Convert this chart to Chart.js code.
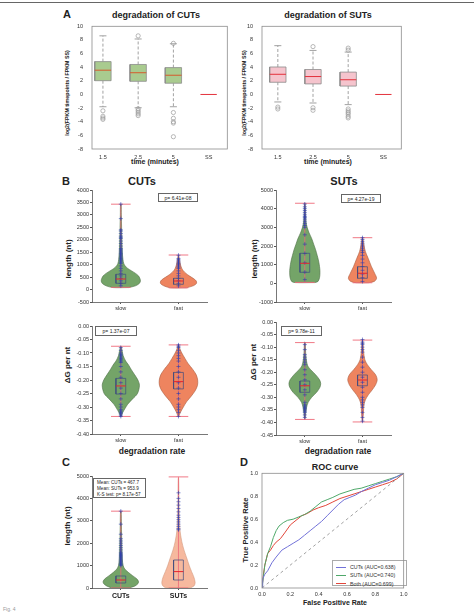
<!DOCTYPE html>
<html>
<head>
<meta charset="utf-8">
<title>CUT and SUT degradation</title>
<script src="https://cdn.jsdelivr.net/npm/chart.js"></script>
<style>
  body { margin: 0; background: #fff; font-family: "Liberation Sans", Arial, sans-serif; }
  .page { position: relative; width: 476px; height: 613px; overflow: hidden; }
  .page canvas { position: absolute; }
  .lbl { position: absolute; white-space: nowrap; transform: translate(-50%, -50%); font-weight: bold; color: #222; }
  .rot { transform: translate(-50%, -50%) rotate(-90deg); }
  .pbox { position: absolute; border: 0.8px solid #666; background: #fff; font-size: 5px; color: #222;
          display: flex; align-items: center; justify-content: center; box-sizing: border-box; }
  .mean { position: absolute; border: 0.8px solid #666; font-size: 4.6px; line-height: 6.2px; color: #222;
          padding: 1px 3px; box-sizing: border-box; }
  .legend { position: absolute; border: 0.8px solid #aaa; background: #fff; font-size: 5.3px; color: #333; box-sizing: border-box; padding: 2px 3px; }
  .legend div { height: 8.3px; display: flex; align-items: center; }
  .legend span.sw { display: inline-block; width: 10px; height: 0; border-top: 1px solid; margin-right: 4px; }
</style>
</head>
<body>
<div class="page" id="page">
  <div style="position:absolute;left:0;top:2px;width:474px;height:1px;background:#666"></div>

  <div class="lbl" style="left:67px;top:14px;font-size:11px">A</div>
  <div class="lbl" style="left:156px;top:15px;font-size:9px">degradation of CUTs</div>
  <div class="lbl" style="left:328px;top:15px;font-size:9px">degradation of SUTs</div>
  <div class="lbl rot" style="left:67px;top:93px;font-size:5.3px">log2(FPKM timepoints / FPKM SS)</div>
  <div class="lbl rot" style="left:244px;top:93px;font-size:5.3px">log2(FPKM timepoints / FPKM SS)</div>
  <div class="lbl" style="left:155px;top:161px;font-size:7px">time (minutes)</div>
  <div class="lbl" style="left:328px;top:161px;font-size:7px">time (minutes)</div>

  <div class="lbl" style="left:66px;top:181px;font-size:11px">B</div>
  <div class="lbl" style="left:142px;top:181px;font-size:11px">CUTs</div>
  <div class="lbl" style="left:344px;top:181px;font-size:11px">SUTs</div>
  <div class="lbl rot" style="left:68px;top:259px;font-size:8px">length (nt)</div>
  <div class="lbl rot" style="left:254px;top:259px;font-size:8px">length (nt)</div>
  <div class="pbox" style="left:158px;top:193px;width:40px;height:9px">p= 6.41e-08</div>
  <div class="pbox" style="left:341px;top:194px;width:40px;height:9px">p= 4.27e-19</div>
  <div class="lbl rot" style="left:67px;top:365px;font-size:8px">ΔG per nt</div>
  <div class="lbl rot" style="left:253px;top:362px;font-size:8px">ΔG per nt</div>
  <div class="pbox" style="left:95px;top:326px;width:42px;height:10px">p= 1.37e-07</div>
  <div class="pbox" style="left:281px;top:326px;width:41px;height:10px">p= 9.78e-11</div>
  <div class="lbl" style="left:152px;top:451px;font-size:8.5px">degradation rate</div>
  <div class="lbl" style="left:338px;top:451px;font-size:8.5px">degradation rate</div>

  <div class="lbl" style="left:66px;top:462px;font-size:11px">C</div>
  <div class="lbl rot" style="left:67px;top:526px;font-size:8px">length (nt)</div>
  <div class="mean" style="left:93px;top:478px;width:53px;height:20px">
    Mean: CUTs = 467.7<br>Mean: SUTs = 953.9<br>K-S test: p= 8.17e-57
  </div>

  <div class="lbl" style="left:244px;top:462px;font-size:11px">D</div>
  <div class="lbl" style="left:335px;top:467px;font-size:9px">ROC curve</div>
  <div class="lbl rot" style="left:245px;top:530px;font-size:7.5px">True Positive Rate</div>
  <div class="lbl" style="left:335px;top:602px;font-size:7px">False Positive Rate</div>
  <div class="legend" style="left:332px;top:560px;width:75px;height:26px">
    <div><span class="sw" style="border-color:#7272d8"></span>CUTs (AUC=0.638)</div>
    <div><span class="sw" style="border-color:#4fa86a"></span>SUTs (AUC=0.740)</div>
    <div><span class="sw" style="border-color:#e2473b"></span>Both (AUC=0.699)</div>
  </div>

  <div style="position:absolute;left:3px;top:606px;font-size:5px;color:#999">Fig. 4</div>
</div>

<script>
  // ---------- panel A: boxplots of log2 ratio ----------
  const TIME_LABELS = ["1.5", "2.5", "5", "SS"];
  const TIME_POS = [1, 2, 3, 4];
  const A_YTICKS = [-8, -6, -4, -2, 0, 2, 4, 6, 8, 10];
  const SS_VALUE = 0;

  const CUT_Q1 = [2.02, 1.93, 1.65];
  const CUT_MED = [3.56, 3.19, 2.82];
  const CUT_Q3 = [4.82, 4.40, 3.94];
  const CUT_LO = [-1.8, -1.95, -1.8];
  const CUT_HI = [8.6, 8.14, 7.44];
  const CUT_OUT = [
    [-2.4, -3.2, -3.45, -3.65],
    [8.6, -2.1, -2.35, -2.6, -2.85, -3.1],
    [7.5, -2.65, -3.5, -4.0, -4.2, -6.2]
  ];

  const SUT_Q1 = [1.79, 1.55, 1.23];
  const SUT_MED = [2.96, 2.63, 2.16];
  const SUT_Q3 = [4.03, 3.66, 3.28];
  const SUT_LO = [-1.1, -1.25, -1.49];
  const SUT_HI = [7.16, 6.46, 6.22];
  const SUT_OUT = [
    [-1.85, -2.13],
    [7.02, -1.95, -2.32],
    [6.5, 6.8, -2.13, -2.41, -2.65, -2.88, -3.2, -3.44]
  ];

  // ---------- panel B / C: violins ----------
  const RATE_LABELS = ["slow", "fast"];
  const RATE_POS = [1, 2];
  const LEN_CUT_TICKS = [-500, 0, 500, 1000, 1500, 2000, 2500, 3000, 3500, 4000];
  const LEN_SUT_TICKS = [-1000, 0, 1000, 2000, 3000, 4000, 5000];
  const DG_CUT_TICKS = [-0.40, -0.35, -0.30, -0.25, -0.20, -0.15, -0.10, -0.05, 0];
  const DG_SUT_TICKS = [-0.45, -0.40, -0.35, -0.30, -0.25, -0.20, -0.15, -0.10, -0.05, 0];

  // each violin: density profile (y levels, relative width), box stats [lo, q1, med, q3, hi], blue points
  const LEN_CUT_SLOW_Y = [80, 150, 250, 350, 450, 550, 650, 750, 850, 950, 1050, 1200, 1500, 2000, 2500, 3000, 3430];
  const LEN_CUT_SLOW_D = [0.4, 0.75, 0.95, 1.0, 0.97, 0.9, 0.75, 0.55, 0.35, 0.22, 0.15, 0.11, 0.075, 0.055, 0.04, 0.025, 0.015];
  const LEN_CUT_SLOW_BOX = [90, 251, 424, 613, 3430];
  const LEN_CUT_SLOW_PTS = [150, 250, 350, 450, 550, 650, 750, 850, 950, 1050, 1100, 1150, 1200, 1250, 1300, 1350, 1400,
    1450, 1500, 1550, 1600, 1650, 1750, 1850, 1950, 2050, 2100, 2150, 2250, 2350, 2400, 2850, 3430];
  const LEN_CUT_FAST_Y = [70, 150, 250, 350, 450, 550, 650, 750, 850, 950, 1100, 1250, 1380];
  const LEN_CUT_FAST_D = [0.4, 0.75, 0.92, 0.9, 0.75, 0.55, 0.38, 0.25, 0.17, 0.12, 0.075, 0.04, 0.015];
  const LEN_CUT_FAST_BOX = [70, 211, 344, 452, 1388];
  const LEN_CUT_FAST_PTS = [150, 250, 350, 450, 550, 650, 750, 850, 900, 950, 1000, 1050, 1100, 1150, 1200, 1250, 1380];

  const LEN_SUT_SLOW_Y = [40, 100, 300, 500, 700, 900, 1100, 1300, 1500, 1800, 2100, 2400, 2700, 3000, 3300, 3700, 4300];
  const LEN_SUT_SLOW_D = [0.5, 0.67, 0.75, 0.77, 0.77, 0.75, 0.72, 0.68, 0.63, 0.55, 0.45, 0.35, 0.22, 0.12, 0.06, 0.035, 0.015];
  const LEN_SUT_SLOW_BOX = [50, 590, 1074, 1609, 4290];
  const LEN_SUT_SLOW_PTS = [200, 600, 1100, 1600, 2100, 2600, 3000, 3100, 3200, 3300, 3400, 3500, 3550, 3600, 3700, 3800,
    3900, 4000, 4100, 4250];
  const LEN_SUT_FAST_Y = [30, 100, 270, 540, 890, 1340, 1700, 2050, 2450];
  const LEN_SUT_FAST_D = [0.3, 0.6, 0.72, 0.62, 0.46, 0.29, 0.15, 0.075, 0.015];
  const LEN_SUT_FAST_BOX = [30, 270, 540, 890, 2445];
  const LEN_SUT_FAST_PTS = [100, 300, 500, 700, 900, 1100, 1300, 1500, 1650, 1750, 1850, 1950, 2050, 2150, 2250, 2350, 2445];

  const DG_CUT_SLOW_Y = [-0.335, -0.32, -0.305, -0.29, -0.27, -0.25, -0.22, -0.20, -0.18, -0.16, -0.145, -0.13, -0.11, -0.09, -0.075];
  const DG_CUT_SLOW_D = [0.015, 0.1, 0.22, 0.35, 0.6, 0.85, 0.95, 0.87, 0.7, 0.52, 0.4, 0.25, 0.12, 0.06, 0.015];
  const DG_CUT_SLOW_BOX = [-0.335, -0.252, -0.222, -0.194, -0.075];
  const DG_CUT_SLOW_PTS = [-0.335, -0.33, -0.325, -0.32, -0.315, -0.31, -0.30, -0.29, -0.27, -0.25, -0.23, -0.21, -0.19,
    -0.17, -0.15, -0.135, -0.13, -0.125, -0.12, -0.115, -0.11, -0.105, -0.10, -0.09, -0.08];
  const DG_CUT_FAST_Y = [-0.335, -0.32, -0.30, -0.28, -0.26, -0.24, -0.22, -0.20, -0.18, -0.16, -0.14, -0.12, -0.10, -0.085, -0.07];
  const DG_CUT_FAST_D = [0.015, 0.1, 0.25, 0.42, 0.65, 0.85, 0.97, 0.98, 0.9, 0.72, 0.5, 0.33, 0.17, 0.075, 0.015];
  const DG_CUT_FAST_BOX = [-0.335, -0.233, -0.206, -0.172, -0.07];
  const DG_CUT_FAST_PTS = [-0.335, -0.32, -0.31, -0.30, -0.29, -0.27, -0.25, -0.23, -0.21, -0.19, -0.17, -0.15, -0.13,
    -0.12, -0.11, -0.10, -0.09, -0.08, -0.075, -0.07];

  const DG_SUT_SLOW_Y = [-0.385, -0.36, -0.34, -0.32, -0.30, -0.28, -0.26, -0.245, -0.23, -0.21, -0.19, -0.175, -0.15, -0.12, -0.08];
  const DG_SUT_SLOW_D = [0.015, 0.05, 0.09, 0.17, 0.35, 0.6, 0.77, 0.81, 0.75, 0.55, 0.3, 0.15, 0.075, 0.04, 0.015];
  const DG_SUT_SLOW_BOX = [-0.388, -0.28, -0.254, -0.235, -0.082];
  const DG_SUT_SLOW_PTS = [-0.38, -0.37, -0.36, -0.355, -0.35, -0.345, -0.34, -0.335, -0.33, -0.32, -0.29, -0.27, -0.25,
    -0.23, -0.21, -0.19, -0.17, -0.16, -0.15, -0.14, -0.13, -0.11, -0.09];
  const DG_SUT_FAST_Y = [-0.395, -0.36, -0.33, -0.31, -0.29, -0.27, -0.25, -0.23, -0.21, -0.19, -0.17, -0.15, -0.12, -0.09, -0.07];
  const DG_SUT_FAST_D = [0.015, 0.05, 0.075, 0.15, 0.3, 0.5, 0.67, 0.75, 0.67, 0.45, 0.25, 0.12, 0.06, 0.035, 0.015];
  const DG_SUT_FAST_BOX = [-0.398, -0.254, -0.231, -0.211, -0.072];
  const DG_SUT_FAST_PTS = [-0.395, -0.38, -0.36, -0.34, -0.33, -0.32, -0.31, -0.30, -0.28, -0.26, -0.24, -0.22, -0.20,
    -0.18, -0.16, -0.14, -0.12, -0.11, -0.10, -0.09, -0.085, -0.08, -0.07];

  const TYPE_LABELS = ["CUTs", "SUTs"];
  const TYPE_POS = [1, 2];
  const C_YTICKS = [0, 1000, 2000, 3000, 4000, 5000];
  const C_CUT_Y = [0, 80, 200, 300, 420, 550, 700, 850, 1000, 1300, 2000, 2800, 3420];
  const C_CUT_D = [0.4, 0.7, 0.88, 0.9, 0.8, 0.6, 0.38, 0.2, 0.12, 0.075, 0.05, 0.03, 0.015];
  const C_CUT_BOX = [0, 223, 357, 536, 3430];
  const C_CUT_PTS = [1000, 1050, 1100, 1150, 1200, 1250, 1300, 1350, 1400, 1450, 1500, 1550, 1600, 1700, 1800, 1900,
    2000, 2100, 2200, 2400, 2850, 3430];
  const C_SUT_Y = [0, 100, 250, 500, 730, 1000, 1340, 1700, 2070, 2590, 3200, 4000, 4900];
  const C_SUT_D = [0.6, 0.8, 0.85, 0.78, 0.67, 0.55, 0.42, 0.28, 0.17, 0.075, 0.045, 0.025, 0.01];
  const C_SUT_BOX = [0, 357, 732, 1250, 4960];
  const C_SUT_PTS = [2600, 2650, 2750, 2850, 2950, 3050, 3150, 3250, 3400, 3550, 3700, 3850, 4000, 4250];

  // ---------- panel D: ROC ----------
  const ROC_TICKS = [0, 0.2, 0.4, 0.6, 0.8, 1.0];
  const CUT_FPR = [0, 0.005, 0.02, 0.04, 0.07, 0.1, 0.14, 0.18, 0.22, 0.26, 0.3, 0.34, 0.38, 0.42, 0.46, 0.5, 0.54,
    0.58, 0.62, 0.66, 0.7, 0.75, 0.8, 0.85, 0.9, 0.95, 1];
  const CUT_TPR = [0, 0.08, 0.12, 0.15, 0.22, 0.27, 0.33, 0.36, 0.39, 0.42, 0.46, 0.5, 0.54, 0.58, 0.63, 0.68, 0.73,
    0.77, 0.79, 0.81, 0.84, 0.87, 0.9, 0.92, 0.94, 0.97, 1];
  const SUT_FPR = [0, 0.01, 0.02, 0.04, 0.06, 0.08, 0.1, 0.12, 0.15, 0.18, 0.22, 0.26, 0.3, 0.34, 0.38, 0.42, 0.46,
    0.5, 0.55, 0.6, 0.65, 0.7, 0.75, 0.8, 0.85, 0.9, 0.95, 1];
  const SUT_TPR = [0, 0.1, 0.2, 0.3, 0.36, 0.44, 0.5, 0.54, 0.57, 0.59, 0.6, 0.62, 0.64, 0.67, 0.71, 0.75, 0.77,
    0.79, 0.82, 0.84, 0.86, 0.87, 0.89, 0.91, 0.93, 0.95, 0.97, 1];
  const BOTH_FPR = [0, 0.01, 0.02, 0.04, 0.06, 0.08, 0.1, 0.13, 0.16, 0.2, 0.24, 0.28, 0.32, 0.36, 0.4, 0.45, 0.5,
    0.55, 0.6, 0.65, 0.7, 0.75, 0.8, 0.85, 0.9, 0.95, 1];
  const BOTH_TPR = [0, 0.12, 0.2, 0.3, 0.33, 0.37, 0.4, 0.43, 0.48, 0.55, 0.59, 0.63, 0.65, 0.68, 0.7, 0.72, 0.75,
    0.78, 0.8, 0.82, 0.84, 0.86, 0.88, 0.9, 0.92, 0.95, 1];
  const DIAG = [0, 1];

  // ---------- styling ----------
  Chart.defaults.font.family = '"Liberation Sans", Arial, sans-serif';
  Chart.defaults.color = "#333";
  Chart.defaults.animation = false;
  Chart.defaults.plugins.legend.display = false;
  Chart.defaults.plugins.tooltip.enabled = false;

  const BOX_A = 0.232, CAP_A = 0.1;
  const VIOLIN_W = 0.34, BOX_V = 0.085, CAP_V = 0.17;
  const GREEN = { fill: "#74a468", edge: "#4d6e47" };
  const ORANGE = { fill: "#ee845f", edge: "#a95c40" };
  const SALMON = { fill: "#f6b99e", edge: "#d39b80" };

  const framePlugin = {
    id: "frame",
    afterDatasetsDraw(chart) {
      const a = chart.chartArea, ctx = chart.ctx;
      ctx.save();
      ctx.strokeStyle = "#8c8c8c";
      ctx.lineWidth = 0.8;
      ctx.strokeRect(a.left, a.top, a.right - a.left, a.bottom - a.top);
      ctx.restore();
    }
  };

  function line(points, color, extra) {
    return Object.assign({
      type: "scatter", showLine: true, data: points, borderColor: color, backgroundColor: color,
      borderWidth: 0.8, pointRadius: 0, fill: false
    }, extra || {});
  }

  function boxplotSets(x, q1, med, q3, lo, hi, out, st) {
    const w = BOX_A, c = CAP_A;
    return [
      line([{ x, y: q3 }, { x, y: hi }, { x, y: null }, { x, y: q1 }, { x, y: lo }], "#8a8a8a", { borderDash: [3, 2] }),
      line([{ x: x - c, y: hi }, { x: x + c, y: hi }, { x, y: null }, { x: x - c, y: lo }, { x: x + c, y: lo }], "#8a8a8a"),
      line([{ x: x - w, y: q1 }, { x: x + w, y: q1 }, { x: x + w, y: q3 }, { x: x - w, y: q3 }, { x: x - w, y: q1 }],
        "#8c8c8c", { fill: "shape", backgroundColor: st.fill }),
      line([{ x: x - w, y: med }, { x: x + w, y: med }], st.median, { borderWidth: 1 }),
      {
        type: "scatter", data: out.map(v => ({ x, y: v })), pointStyle: "circle", pointRadius: 2.1,
        borderColor: "#9a9a9a", backgroundColor: "rgba(0,0,0,0)", borderWidth: 0.7
      }
    ];
  }

  function panelASets(q1, med, q3, lo, hi, out, st) {
    let sets = [];
    q1.forEach((_, i) => { sets = sets.concat(boxplotSets(TIME_POS[i], q1[i], med[i], q3[i], lo[i], hi[i], out[i], st)); });
    const s = TIME_POS[3];
    sets.push(line([{ x: s - BOX_A, y: SS_VALUE }, { x: s + BOX_A, y: SS_VALUE }], "#e3323c", { borderWidth: 1 }));
    return sets;
  }

  function violinSets(x, ys, dens, box, pts, st) {
    const right = ys.map((y, i) => ({ x: x + dens[i] * VIOLIN_W, y }));
    const left = ys.map((y, i) => ({ x: x - dens[i] * VIOLIN_W, y })).reverse();
    const outline = right.concat(left, [right[0]]);
    const [lo, q1, med, q3, hi] = box;
    return [
      line(outline, st.edge, { fill: "shape", backgroundColor: st.fill, borderWidth: 0.6, tension: 0.3 }),
      line([{ x, y: lo }, { x, y: hi }], "#ee6a78", { borderWidth: 0.8 }),
      line([{ x: x - CAP_V, y: hi }, { x: x + CAP_V, y: hi }, { x, y: null }, { x: x - CAP_V, y: lo }, { x: x + CAP_V, y: lo }],
        "#ee6a78", { borderWidth: 0.9 }),
      {
        type: "scatter", data: pts.map(v => ({ x, y: v })), pointStyle: "cross", pointRadius: 2,
        borderColor: "rgba(40,60,175,0.85)", borderWidth: 0.7
      },
      line([{ x: x - BOX_V, y: q1 }, { x: x + BOX_V, y: q1 }, { x: x + BOX_V, y: q3 }, { x: x - BOX_V, y: q3 }, { x: x - BOX_V, y: q1 }],
        "#3d4c80", { borderWidth: 0.7 }),
      line([{ x: x - BOX_V, y: med }, { x: x + BOX_V, y: med }], "#e5252d", { borderWidth: 1 })
    ];
  }

  function xAxis(min, max, pos, labels, o) {
    return {
      type: "linear", min, max,
      afterBuildTicks: s => { s.ticks = pos.map(v => ({ value: v })); },
      afterFit: s => { s.height = o.h; },
      ticks: { autoSkip: false, maxRotation: 0, padding: o.pad, font: o.font || { size: 5.5 }, color: o.color || "#333",
        callback: (v, i) => labels[i] },
      grid: { display: !!o.marks, drawOnChartArea: false, drawTicks: true, tickLength: 2, color: "#555" },
      border: { display: !!o.border, color: "#555", width: 0.8 }
    };
  }

  function yAxis(ticks, w, fmt, o) {
    return {
      type: "linear", min: ticks[0], max: ticks[ticks.length - 1],
      afterBuildTicks: s => { s.ticks = ticks.map(v => ({ value: v })); },
      afterFit: s => { s.width = w; },
      ticks: { padding: o.pad, font: { size: 5.5 }, color: "#333", callback: fmt },
      grid: { display: !!o.marks, drawOnChartArea: false, drawTicks: true, tickLength: 2, color: "#555" },
      border: { display: !!o.border, color: "#555", width: 0.8 }
    };
  }

  function makeChart(geom, scales, sets, framed) {
    const cv = document.createElement("canvas");
    cv.width = geom[2];
    cv.height = geom[3];
    cv.style.left = geom[0] + "px";
    cv.style.top = geom[1] + "px";
    document.getElementById("page").appendChild(cv);
    return new Chart(cv, {
      type: "scatter",
      data: { datasets: sets.slice().reverse() },
      options: {
        responsive: false, devicePixelRatio: 1,
        layout: { padding: { top: 5, right: 2, left: 0, bottom: 0 } },
        scales,
        plugins: { legend: { display: false } }
      },
      plugins: framed ? [framePlugin] : []
    });
  }

  const intFmt = v => String(v);
  const fix2 = v => v.toFixed(2);
  const fix1 = v => v.toFixed(1);

  // A
  makeChart([60, 16, 172, 145],
    { x: xAxis(0.69, 4.53, TIME_POS, TIME_LABELS, { h: 12, pad: 3 }), y: yAxis(A_YTICKS, 32, intFmt, { pad: 7 }) },
    panelASets(CUT_Q1, CUT_MED, CUT_Q3, CUT_LO, CUT_HI, CUT_OUT, { fill: "#a9cb8f", median: "#d55b2d" }), true);
  makeChart([238, 16, 168, 145],
    { x: xAxis(0.55, 4.51, TIME_POS, TIME_LABELS, { h: 12, pad: 3 }), y: yAxis(A_YTICKS, 24, intFmt, { pad: 7 }) },
    panelASets(SUT_Q1, SUT_MED, SUT_Q3, SUT_LO, SUT_HI, SUT_OUT, { fill: "#f5c4cd", median: "#e3323c" }), true);

  // B
  const bx = { h: 12, pad: 1, marks: true, border: true };
  const by = { pad: 1, marks: true, border: true };
  makeChart([60, 185, 152, 129],
    { x: xAxis(0.5, 2.5, RATE_POS, RATE_LABELS, bx), y: yAxis(LEN_CUT_TICKS, 32, intFmt, by) },
    violinSets(RATE_POS[0], LEN_CUT_SLOW_Y, LEN_CUT_SLOW_D, LEN_CUT_SLOW_BOX, LEN_CUT_SLOW_PTS, GREEN)
      .concat(violinSets(RATE_POS[1], LEN_CUT_FAST_Y, LEN_CUT_FAST_D, LEN_CUT_FAST_BOX, LEN_CUT_FAST_PTS, ORANGE)));
  makeChart([246, 185, 150, 129],
    { x: xAxis(0.5, 2.5, RATE_POS, RATE_LABELS, bx), y: yAxis(LEN_SUT_TICKS, 30, intFmt, by) },
    violinSets(RATE_POS[0], LEN_SUT_SLOW_Y, LEN_SUT_SLOW_D, LEN_SUT_SLOW_BOX, LEN_SUT_SLOW_PTS, GREEN)
      .concat(violinSets(RATE_POS[1], LEN_SUT_FAST_Y, LEN_SUT_FAST_D, LEN_SUT_FAST_BOX, LEN_SUT_FAST_PTS, ORANGE)));
  makeChart([60, 321, 152, 125],
    { x: xAxis(0.5, 2.5, RATE_POS, RATE_LABELS, bx), y: yAxis(DG_CUT_TICKS, 32, fix2, by) },
    violinSets(RATE_POS[0], DG_CUT_SLOW_Y, DG_CUT_SLOW_D, DG_CUT_SLOW_BOX, DG_CUT_SLOW_PTS, GREEN)
      .concat(violinSets(RATE_POS[1], DG_CUT_FAST_Y, DG_CUT_FAST_D, DG_CUT_FAST_BOX, DG_CUT_FAST_PTS, ORANGE)));
  makeChart([246, 317, 150, 130],
    { x: xAxis(0.5, 2.5, RATE_POS, RATE_LABELS, bx), y: yAxis(DG_SUT_TICKS, 30, fix2, by) },
    violinSets(RATE_POS[0], DG_SUT_SLOW_Y, DG_SUT_SLOW_D, DG_SUT_SLOW_BOX, DG_SUT_SLOW_PTS, GREEN)
      .concat(violinSets(RATE_POS[1], DG_SUT_FAST_Y, DG_SUT_FAST_D, DG_SUT_FAST_BOX, DG_SUT_FAST_PTS, ORANGE)));

  // C
  makeChart([60, 471, 152, 131],
    { x: xAxis(0.5, 2.5, TYPE_POS, TYPE_LABELS, { h: 14, pad: 2, marks: true, border: true, font: { size: 7, weight: "bold" }, color: "#222" }),
      y: yAxis(C_YTICKS, 32, intFmt, by) },
    violinSets(TYPE_POS[0], C_CUT_Y, C_CUT_D, C_CUT_BOX, C_CUT_PTS, GREEN)
      .concat(violinSets(TYPE_POS[1], C_SUT_Y, C_SUT_D, C_SUT_BOX, C_SUT_PTS, SALMON)));

  // D
  const rocX = xAxis(0, 1, ROC_TICKS, ROC_TICKS.map(fix1), { h: 10, pad: 1.5 });
  const pairs = (xs, ys) => xs.map((v, i) => ({ x: v, y: ys[i] }));
  makeChart([230, 468, 179, 130],
    { x: rocX, y: yAxis(ROC_TICKS, 32, fix1, { pad: 2 }) },
    [
      line(pairs(BOTH_FPR, BOTH_TPR), "#e2473b", { borderWidth: 1 }),
      line(pairs(SUT_FPR, SUT_TPR), "#4fa86a", { borderWidth: 1 }),
      line(pairs(CUT_FPR, CUT_TPR), "#7272d8", { borderWidth: 1 }),
      line(pairs(DIAG, DIAG), "#8a8a8a", { borderDash: [3, 3] })
    ], true);
</script>
</body>
</html>
